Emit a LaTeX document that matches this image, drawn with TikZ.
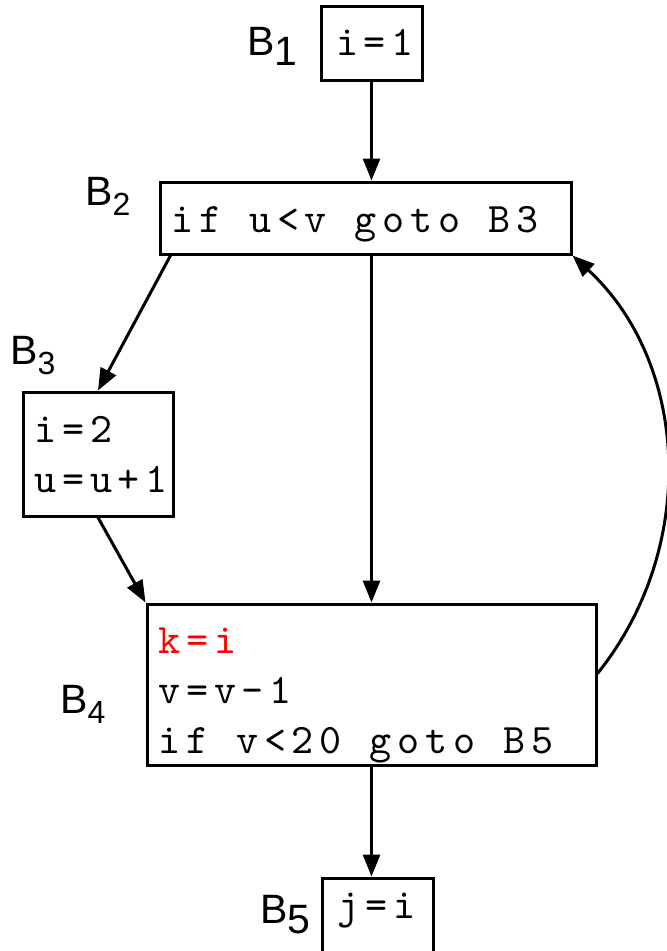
\documentclass[tikz,border=0pt]{standalone}
\usepackage{fontspec}
\setsansfont{Liberation Sans}
\newfontfamily\codefont{lmmono10-regular.otf}[LetterSpace=14]
\usetikzlibrary{arrows.meta}
\begin{document}
\begin{tikzpicture}[x=1pt,y=-1pt,
  box/.style={draw, line width=3pt, inner sep=0pt, rectangle},
  code/.style={font=\codefont\fontsize{42}{50}\selectfont, inner sep=0pt, anchor=base west},
  lbl/.style={font=\fontsize{41}{41}\selectfont\sffamily, inner sep=0pt, anchor=base west},
  arr/.style={line width=3pt, -{Triangle[length=22pt,width=17pt]}}]
\path[use as bounding box, clip] (0,0) rectangle (667,951);
% boxes
\node[box, minimum width=101pt, minimum height=74pt] (b1) at (371.5,43) {};
\node[box, minimum width=411pt, minimum height=72pt] (b2) at (365.5,218) {};
\node[box, minimum width=150pt, minimum height=124pt] (b3) at (98,454) {};
\node[box, minimum width=449pt, minimum height=161pt] (b4) at (371.5,684.5) {};
\node[box, minimum width=111pt, minimum height=90pt] (b5) at (377.5,923) {};
% texts
\node[code, anchor=base] (t1) at (375,55) {i=1};
\node[code] (t2) at (171,232) {if u<v goto B3};
\node[code] (t3a) at (34,442) {i=2};
\node[code] (t3b) at (34,492) {u=u+1};
\node[code, text=red] (t4a) at (158,653) {k=i};
\node[code] (t4b) at (158,703) {v=v-1};
\node[code] (t4c) at (158,753) {if v<20 goto B5};
\node[code, anchor=base] (t5) at (376.5,918) {j=i};
% labels
\node[lbl] (l1) at (247,55) {B\raisebox{-10pt}{1}};
\node[lbl] (l2) at (85,205) {B\raisebox{-10pt}{\fontsize{32}{32}\selectfont 2}};
\node[lbl] (l3) at (10,364) {B\raisebox{-10pt}{\fontsize{32}{32}\selectfont 3}};
\node[lbl] (l4) at (60,713) {B\raisebox{-10pt}{\fontsize{32}{32}\selectfont 4}};
\node[lbl] (l5) at (260,923) {B\raisebox{-10pt}{5}};
% connectors
\draw[arr] (b1.south) -- (b1.south |- b2.north);
\draw[arr] ([xshift=12pt]b2.south west) -- (b3.north);
\draw[arr] (b4.north |- b2.south) -- (b4.north);
\draw[arr] (b3.south) -- (b4.north west);
\draw[arr] (b4.south) -- (b4.south |- b5.north);
\draw[arr] ([yshift=11pt]b4.east) .. controls (699,547) and (689,363) .. (b2.south east);
\end{tikzpicture}
\end{document}
